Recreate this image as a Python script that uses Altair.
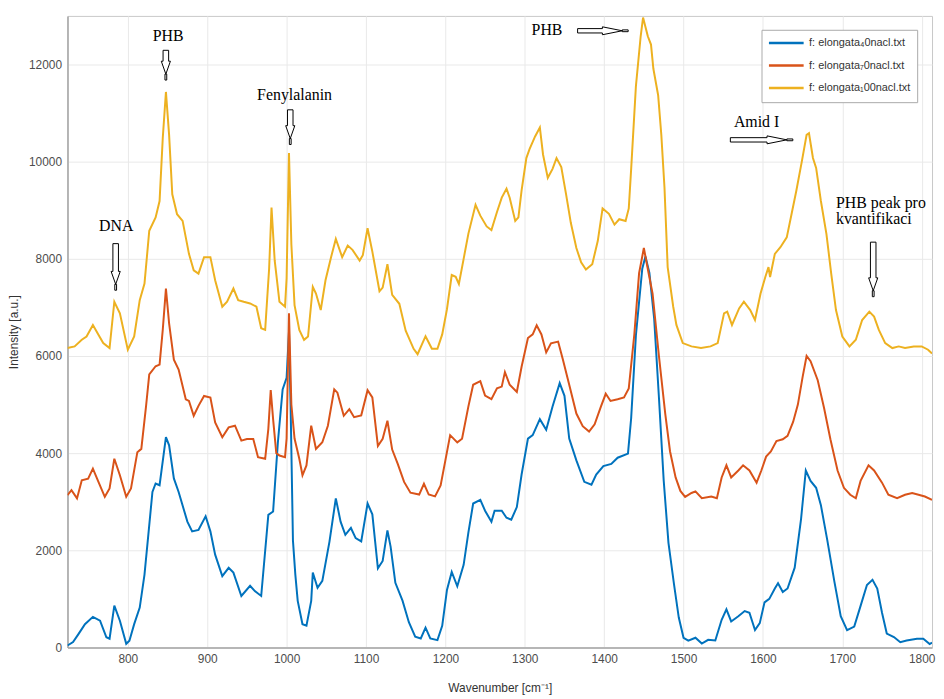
import altair as alt
import pandas as pd

SERIES = ["f: elongata\u20840nacl.txt", "f: elongata\u20870nacl.txt", "f: elongata\u208100nacl.txt"]
COLORS = ["#0072BD", "#D95319", "#EDB120"]

wn_blue = [724, 731, 738, 746, 756, 765, 773, 777, 783, 790, 798, 802, 808, 815, 821, 825, 831, 835, 840, 848,
           852, 858, 864, 875, 881, 889, 898, 904, 910, 919, 927, 933, 943, 954, 960, 968, 977, 983, 989, 995,
           1000, 1003, 1005, 1008, 1011, 1014, 1020, 1025, 1031, 1033, 1039, 1045, 1054, 1062, 1068, 1074, 1081, 1087, 1094, 1102,
           1108, 1115, 1121, 1127, 1131, 1137, 1146, 1154, 1162, 1169, 1175, 1181, 1190, 1196, 1202, 1208, 1215, 1223, 1229, 1235,
           1244, 1250, 1258, 1262, 1271, 1277, 1283, 1290, 1296, 1304, 1310, 1319, 1327, 1335, 1344, 1350, 1356, 1365, 1375, 1384,
           1390, 1399, 1409, 1417, 1430, 1434, 1440, 1448, 1452, 1457, 1463, 1469, 1475, 1481, 1488, 1494, 1500, 1506, 1515, 1523,
           1531, 1540, 1548, 1554, 1560, 1569, 1577, 1583, 1590, 1596, 1602, 1608, 1615, 1619, 1625, 1631, 1640, 1648, 1654, 1660,
           1667, 1673, 1681, 1690, 1698, 1706, 1715, 1723, 1731, 1738, 1744, 1750, 1756, 1765, 1773, 1781, 1794, 1802, 1810, 1813]
int_blue = [40, 110, 280, 480, 630, 550, 210, 180, 860, 550, 75, 140, 480, 820, 1500, 2180, 3200, 3375, 3340, 4330,
            4160, 3480, 3200, 2590, 2390, 2420, 2700, 2390, 1910, 1470, 1640, 1540, 1060, 1270, 1160, 1060, 2730, 2800, 4220, 5310,
            5550, 6500, 5000, 2200, 1500, 960, 480, 450, 960, 1540, 1230, 1370, 2180, 3070, 2590, 2320, 2460, 2250, 2185, 2963,
            2740, 1630, 1780, 2410, 2075, 1330, 963, 519, 222, 185, 407, 185, 150, 444, 1185, 1555, 1260, 1700, 2370, 2963,
            3040, 2815, 2590, 2815, 2815, 2670, 2630, 2890, 3560, 4300, 4370, 4700, 4480, 4960, 5440, 5180, 4300, 3850, 3410, 3350,
            3560, 3735, 3778, 3906, 3991, 4718, 6427, 7795, 8050, 7709, 6769, 5145, 3436, 2154, 1299, 615, 200, 140, 200, 80,
            157, 143, 571, 786, 536, 643, 750, 714, 357, 500, 929, 1000, 1214, 1321, 1143, 1214, 1643, 2643, 3643, 3429,
            3286, 2929, 2214, 1357, 643, 357, 429, 857, 1286, 1393, 1214, 714, 286, 214, 107, 143, 179, 179, 71, 100]

wn_orange = [724, 729, 736, 742, 750, 756, 763, 771, 777, 783, 790, 798, 804, 812, 817, 823, 827, 835, 840, 844,
             848, 852, 858, 864, 873, 877, 883, 889, 896, 904, 910, 919, 927, 935, 943, 950, 958, 964, 973, 977,
             980, 983, 987, 991, 998, 1000, 1003, 1006, 1010, 1016, 1020, 1025, 1031, 1037, 1045, 1052, 1060, 1064, 1072, 1079,
             1085, 1094, 1102, 1108, 1115, 1121, 1127, 1133, 1140, 1148, 1156, 1167, 1173, 1179, 1187, 1194, 1200, 1206, 1215, 1221,
             1229, 1235, 1244, 1250, 1258, 1265, 1271, 1275, 1281, 1290, 1296, 1304, 1310, 1315, 1321, 1327, 1333, 1342, 1348, 1356,
             1365, 1373, 1381, 1388, 1396, 1402, 1408, 1417, 1425, 1431, 1438, 1444, 1450, 1456, 1461, 1469, 1477, 1483, 1490, 1496,
             1502, 1510, 1515, 1523, 1535, 1542, 1548, 1554, 1560, 1569, 1575, 1583, 1592, 1598, 1604, 1610, 1617, 1625, 1631, 1638,
             1644, 1650, 1655, 1660, 1669, 1677, 1685, 1694, 1702, 1710, 1717, 1723, 1733, 1740, 1750, 1758, 1769, 1779, 1788, 1796,
             1804, 1813]
int_orange = [3136, 3238, 3068, 3442, 3476, 3680, 3408, 3102, 3272, 3884, 3544, 3102, 3272, 4020, 4088, 4973, 5619, 5789, 5823, 6537,
              7388, 6673, 5925, 5721, 5109, 5075, 4769, 4973, 5177, 5143, 4633, 4327, 4531, 4565, 4258, 4292, 4292, 3918, 3884, 4500,
              5300, 4700, 4000, 3952, 3918, 4300, 6880, 5000, 4300, 3884, 3544, 3748, 4565, 4088, 4224, 4565, 5313, 5245, 4769, 4905,
              4741, 4778, 5296, 5148, 4148, 4296, 4667, 4074, 3778, 3407, 3185, 3148, 3370, 3148, 3111, 3333, 3852, 4370, 4222, 4296,
              4963, 5407, 5481, 5185, 5111, 5333, 5370, 5667, 5407, 5259, 5778, 6370, 6444, 6630, 6444, 6074, 6259, 6296, 5926, 5407,
              4815, 4556, 4444, 4593, 4963, 5222, 5074, 5111, 5148, 5333, 6444, 7704, 8222, 7704, 7282, 6000, 4803, 4034, 3500, 3222,
              3100, 3180, 3214, 3071, 3107, 3071, 3500, 3750, 3500, 3643, 3750, 3643, 3393, 3643, 3929, 4036, 4250, 4286, 4357, 4643,
              5000, 5571, 6000, 5893, 5500, 4929, 4286, 3643, 3286, 3143, 3071, 3429, 3750, 3643, 3393, 3143, 3071, 3143, 3179, 3143,
              3107, 3036]

wn_yellow = [724, 733, 742, 748, 756, 763, 769, 777, 783, 790, 800, 808, 815, 821, 827, 835, 840, 844, 848, 852,
             856, 862, 869, 877, 883, 889, 896, 904, 910, 919, 925, 933, 939, 946, 954, 962, 968, 973, 978, 981,
             985, 991, 998, 1000, 1003, 1006, 1010, 1016, 1022, 1027, 1033, 1037, 1043, 1049, 1056, 1062, 1070, 1077, 1083, 1092,
             1096, 1102, 1108, 1117, 1121, 1127, 1133, 1142, 1150, 1160, 1165, 1175, 1183, 1190, 1196, 1202, 1208, 1213, 1217, 1223,
             1229, 1238, 1244, 1252, 1258, 1265, 1271, 1277, 1281, 1288, 1292, 1296, 1302, 1306, 1313, 1319, 1323, 1329, 1335, 1340,
             1346, 1352, 1358, 1365, 1371, 1377, 1385, 1392, 1398, 1406, 1413, 1419, 1427, 1431, 1434, 1440, 1446, 1449, 1455, 1459,
             1462, 1468, 1472, 1476, 1480, 1487, 1491, 1499, 1510, 1522, 1534, 1543, 1551, 1555, 1561, 1570, 1576, 1584, 1590, 1597,
             1603, 1607, 1609, 1615, 1622, 1630, 1636, 1642, 1649, 1655, 1658, 1663, 1667, 1673, 1680, 1686, 1692, 1700, 1709, 1717,
             1725, 1734, 1740, 1746, 1754, 1763, 1771, 1779, 1790, 1800, 1808, 1813]
int_yellow = [6163, 6197, 6333, 6401, 6639, 6435, 6265, 6163, 7116, 6878, 6129, 6401, 7150, 7490, 8578, 8850, 9190, 10483, 11435, 10551,
              9327, 8918, 8782, 8102, 7762, 7694, 8034, 8034, 7558, 7014, 7116, 7388, 7150, 7116, 7082, 7014, 6571, 6537, 7800, 9054,
              7966, 7116, 7014, 7600, 10177, 8300, 7048, 6537, 6333, 6401, 7422, 7286, 6946, 7558, 8034, 8408, 8034, 8272, 8185, 7963,
              8074, 8630, 8148, 7333, 7407, 7889, 7259, 7074, 6519, 6148, 6037, 6407, 6148, 6148, 6444, 6963, 7667, 7630, 7481, 8000,
              8519, 9111, 8889, 8667, 8593, 8963, 9259, 9444, 9259, 8778, 8852, 9407, 10074, 10259, 10519, 10704, 10148, 9667, 9852, 10074,
              9889, 9333, 8741, 8222, 7926, 7778, 7889, 8370, 9037, 8926, 8704, 8815, 8778, 9037, 9846, 11556, 12581, 12966, 12581, 12410,
              11912, 11367, 10551, 9463, 7830, 7014, 6639, 6265, 6197, 6163, 6197, 6265, 6878, 6912, 6639, 6980, 7116, 6946, 6741, 7286,
              7626, 7830, 7626, 8102, 8238, 8442, 8918, 9395, 10007, 10551, 10585, 10075, 9871, 9190, 8510, 7694, 6946, 6401, 6197, 6333,
              6741, 6912, 6810, 6537, 6265, 6163, 6197, 6163, 6197, 6197, 6129, 6050]

# annotation labels (data coordinates)
label_text = ["DNA", "PHB", "Fenylalanin", "PHB", "Amid I"]
label_wn = [785.5, 850.8, 1010, 1328, 1592]
label_int = [8680, 12592, 11380, 12714, 10822]
label2_text = ["PHB peak pro", "kvantifikaci"]
label2_wn = [1692, 1692]
label2_int = [9155, 8822]

# arrows: centre (data coords), length in px, direction
arrow_wn = [784.7, 847.9, 1004.6, 1738.9, 1398.4, 1598.3]
arrow_int = [7833, 11986, 10710, 7782, 12694, 10449]
arrow_len = [47, 30, 35, 55, 51, 63]
arrow_dir = ["down", "down", "down", "down", "right", "right"]


def arrow_path(L, horizontal):
    u = 2.0 / L
    if horizontal:
        shaft, head, head_len, stub = 2.2, 4.0, 20.0, 6.0
    else:
        shaft, head, head_len, stub = 2.8, 4.6, 13.0, 6.0
    s = shaft * u
    h = head * u
    yh = 1 - (head_len + stub) * u
    yt = 1 - stub * u
    k = 0.9 * u
    p1 = [(-s, -1), (s, -1), (s, yh), (h, yh), (0, yt), (-h, yh), (-s, yh)]
    p2 = [(-k, yt), (k, yt), (k, 1), (-k, 1)]

    def fmt(pts):
        if horizontal:
            pts = [(y, x) for x, y in pts]
        return "M" + " L".join(f"{x:.4f},{y:.4f}" for x, y in pts) + " Z"

    return fmt(p1) + " " + fmt(p2)


rows = []
for name, wns, ints in zip(SERIES, [wn_blue, wn_orange, wn_yellow], [int_blue, int_orange, int_yellow]):
    for w, v in zip(wns, ints):
        rows.append({"series": name, "wn": w, "I": v})
df_lines = pd.DataFrame(rows)

df_lab = pd.DataFrame({"t": label_text, "wn": label_wn, "I": label_int})
df_lab2 = pd.DataFrame({"t": label2_text, "wn": label2_wn, "I": label2_int})
df_arr = pd.DataFrame({
    "wn": arrow_wn, "I": arrow_int,
    "sz": [L * L for L in arrow_len],
    "path": [arrow_path(L, d == "right") for L, d in zip(arrow_len, arrow_dir)],
})

xscale = alt.Scale(domain=[724, 1813], nice=False, zero=False)
yscale = alt.Scale(domain=[0, 13000], nice=False, zero=False)
xenc = alt.X("wn:Q", scale=xscale,
             axis=alt.Axis(values=list(range(800, 1801, 100)), title="Wavenumber [cm\u207b\u00b9]",
                           labelPadding=6, titlePadding=18, format="d"))
yenc = alt.Y("I:Q", scale=yscale,
             axis=alt.Axis(values=list(range(0, 12001, 2000)), title="Intensity [a.u.]",
                           labelPadding=6, titlePadding=8, format="d"))

leg = alt.Legend(orient="none", legendX=700, legendY=14, title=None, symbolType="stroke",
                 symbolSize=1225, symbolStrokeWidth=2.5, labelFontSize=11, labelFont="Liberation Sans",
                 labelColor="#333333", strokeColor="#aaaaaa", fillColor="white", padding=6,
                 clipHeight=14.8, rowPadding=7.7, labelOffset=4, labelLimit=300)

layers = []
for name in SERIES:
    layers.append(
        alt.Chart(df_lines).transform_filter(alt.datum.series == name)
        .mark_line(strokeWidth=2, clip=True)
        .encode(x=xenc, y=yenc,
                color=alt.Color("series:N", scale=alt.Scale(domain=SERIES, range=COLORS), legend=leg))
    )

arrows = alt.Chart(df_arr).mark_point(filled=True, fill="white", stroke="black", strokeWidth=1,
                                      opacity=1, fillOpacity=1).encode(
    x=alt.X("wn:Q", scale=xscale), y=alt.Y("I:Q", scale=yscale),
    shape=alt.Shape("path:N", scale=None), size=alt.Size("sz:Q", scale=None))

texts = alt.Chart(df_lab).mark_text(font="Liberation Serif", fontSize=16, color="black",
                                    align="center", baseline="middle").encode(
    x=alt.X("wn:Q", scale=xscale), y=alt.Y("I:Q", scale=yscale), text="t:N")
texts2 = alt.Chart(df_lab2).mark_text(font="Liberation Serif", fontSize=16, color="black",
                                      align="left", baseline="middle").encode(
    x=alt.X("wn:Q", scale=xscale), y=alt.Y("I:Q", scale=yscale), text="t:N")

chart = alt.layer(*layers, arrows, texts, texts2).properties(
    width=872, height=637,
    autosize=alt.AutoSizeParams(type="none"),
    padding={"left": 60, "top": 5, "right": 4, "bottom": 50},
).configure_view(stroke="#c8c8c8", strokeWidth=1).configure_axis(
    labelFont="Liberation Sans", labelFontSize=12, labelColor="#4d4d4d",
    titleFont="Liberation Sans", titleFontSize=12, titleColor="#333333", titleFontWeight="normal",
    gridColor="#e9e9e9", gridWidth=1, domainColor="#a6a6a6", domainWidth=1.5, tickSize=0,
)

chart.save("out.html", embed_options={"renderer": "svg", "actions": False})
